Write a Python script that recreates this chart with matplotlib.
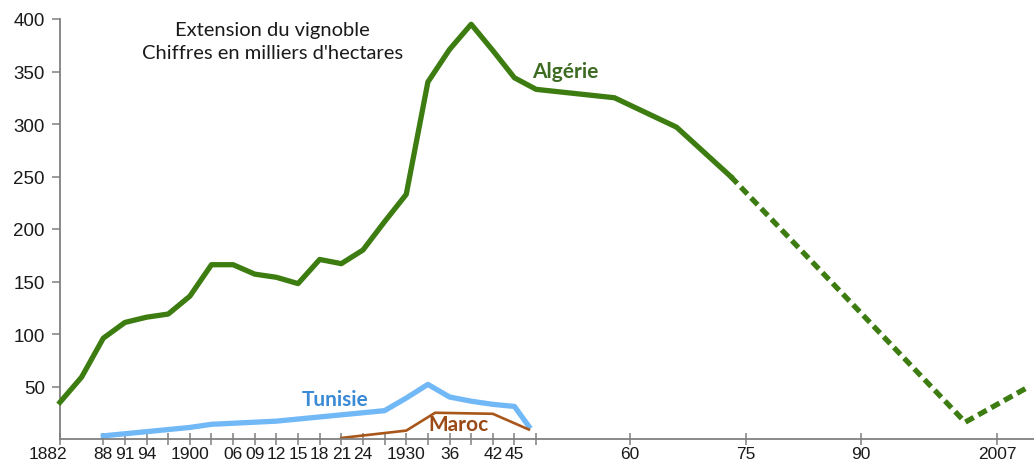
import numpy as np
import matplotlib
matplotlib.use("Agg")
import matplotlib.pyplot as plt
import matplotlib.transforms as mtransforms

# Extension du vignoble (milliers d'hectares)
ALG_YEARS = [1882, 1885, 1888, 1891, 1894, 1897, 1900, 1903, 1906, 1909, 1912, 1915, 1918,
             1921, 1924, 1927, 1930, 1933, 1936, 1939, 1942, 1945, 1948, 1958, 1966, 1973]
ALG_VALS = [35, 59, 96, 111, 116, 119, 136, 166, 166, 157, 154, 148, 171,
            167, 180, 207, 233, 340, 371, 395, 370, 344, 333, 325, 297, 250]
ALG_EST_YEARS = [1973, 2003, 2007, 2011]
ALG_EST_VALS = [250, 16, 33, 50]

TUN_YEARS = [1888, 1891, 1894, 1897, 1900, 1903, 1906, 1909, 1912, 1915, 1918, 1921,
             1924, 1927, 1930, 1933, 1936, 1939, 1942, 1945, 1947]
TUN_VALS = [3, 5, 7, 9, 11, 14, 15, 16, 17, 19, 21, 23, 25, 27, 39, 52, 40, 36, 33, 31, 12]

MAR_YEARS = [1921, 1930, 1934, 1942, 1947]
MAR_VALS = [1, 8, 25, 24, 9]

TICK_YEARS = [1882, 1888, 1891, 1894, 1900, 1906, 1909, 1912, 1915, 1918, 1921, 1924,
              1930, 1936, 1942, 1945, 1960, 1975, 1990, 2007]
TICK_LABELS = ["1882", "88", "91", "94", "1900", "06", "09", "12", "15", "18", "21", "24",
               "1930", "36", "42", "45", "60", "75", "90", "2007"]
MINOR_YEARS = [1897, 1903, 1927, 1933, 1939, 1948]

# uneven time axis of the original (3-year steps until 1948, then stretched)
KNOT_Y = np.array([1870, 1882, 1948, 1960, 1975, 1990, 2007, 2030], dtype=float)
KNOT_P = np.array([-26.5, 60, 536, 630, 746, 861, 997, 1181], dtype=float)


def fwd(x):
    return np.interp(x, KNOT_Y, KNOT_P)


def inv(p):
    return np.interp(p, KNOT_P, KNOT_Y)


GREEN = "#3c7c10"
BLUE = "#71b8f6"
BROWN = "#a9561b"
GREY = "#808080"

fig = plt.figure(figsize=(10.34, 4.64), dpi=100)
ax = fig.add_axes([60 / 1034, 24 / 464, 974 / 1034, 420 / 464])
ax.set_xscale("function", functions=(fwd, inv))

ax.plot(ALG_YEARS, ALG_VALS, color=GREEN, lw=3.8, solid_joinstyle="round", clip_on=False, zorder=3)
ax.plot(ALG_EST_YEARS, ALG_EST_VALS, color=GREEN, lw=3.8, ls=(0, (1.8, 1.0)), clip_on=False, zorder=3)
ax.plot(TUN_YEARS, TUN_VALS, color=BLUE, lw=3.8, solid_joinstyle="round", clip_on=False, zorder=2)
ax.plot(MAR_YEARS, MAR_VALS, color=BROWN, lw=1.9, clip_on=False, zorder=2)

ax.set_xlim(1882, 2011.6)
ax.set_ylim(0, 400)

for s in ("top", "right"):
    ax.spines[s].set_visible(False)
for s in ("left", "bottom"):
    ax.spines[s].set_color(GREY)
    ax.spines[s].set_linewidth(1.3)

ax.set_yticks(np.arange(50, 401, 50))
ax.set_xticks(TICK_YEARS)
ax.set_xticklabels(TICK_LABELS)
ax.set_xticks(MINOR_YEARS, minor=True)
ax.tick_params(axis="y", direction="out", length=6, width=1.1, color=GREY, pad=5,
               labelsize=13.5, labelcolor="#1a1a1a")
ax.tick_params(axis="x", which="both", direction="inout", length=8, width=1.1, color=GREY,
               pad=1, labelsize=12.5, labelcolor="#1a1a1a")
for lab in ax.get_xticklabels() + ax.get_yticklabels():
    lab.set_family("Liberation Sans")

# first year label sits left of the axis in the original
first = ax.get_xticklabels()[0]
first.set_transform(first.get_transform() + mtransforms.ScaledTranslation(-12 / 100, 0, fig.dpi_scale_trans))

ax.text(1911.5, 390, "Extension du vignoble", ha="center", va="center",
        fontsize=14.5, family="Lato", color="#1a1a1a")
ax.text(1911.5, 368, "Chiffres en milliers d'hectares", ha="center", va="center",
        fontsize=14.5, family="Lato", color="#1a1a1a")
ax.text(1951.7, 350, "Algérie", ha="center", va="center", fontsize=15,
        fontweight="bold", family="Lato", color="#3d6b22")
ax.text(1920.2, 38, "Tunisie", ha="center", va="center", fontsize=15,
        fontweight="bold", family="Lato", color="#3a8ad6")
ax.text(1937.3, 14, "Maroc", ha="center", va="center", fontsize=15,
        fontweight="bold", family="Lato", color="#9b4a16")

fig.savefig("out.png", dpi=100)
